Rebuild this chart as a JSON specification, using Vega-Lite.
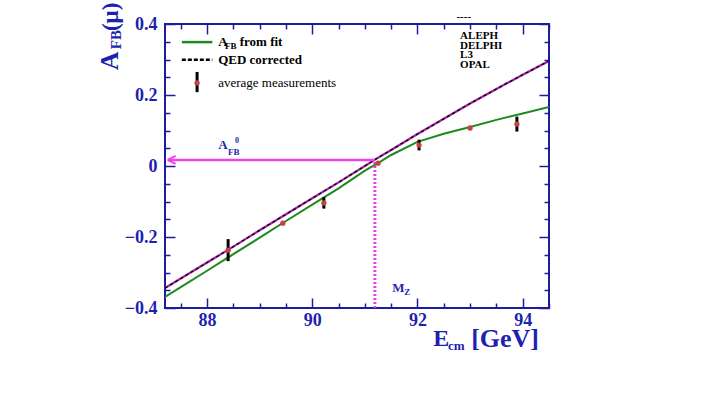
{
  "$schema": "https://vega.github.io/schema/vega-lite/v6.json",
  "width": 384,
  "height": 284,
  "autosize": {"type": "none"},
  "padding": {"left": 165, "top": 24, "right": 171, "bottom": 97},
  "background": "white",
  "config": {"view": {"stroke": "#1c1c9c", "strokeWidth": 2}},
  "datasets": {
    "fit": [
      {"E": 87.2, "A": -0.369}, {"E": 87.5, "A": -0.341}, {"E": 88.0, "A": -0.295}, {"E": 88.5, "A": -0.248},
      {"E": 89.0, "A": -0.202}, {"E": 89.5, "A": -0.155}, {"E": 90.0, "A": -0.109}, {"E": 90.5, "A": -0.063},
      {"E": 91.0, "A": -0.013}, {"E": 91.25, "A": 0.008}, {"E": 91.5, "A": 0.031}, {"E": 92.0, "A": 0.068},
      {"E": 92.5, "A": 0.091}, {"E": 93.0, "A": 0.110}, {"E": 93.5, "A": 0.130}, {"E": 94.0, "A": 0.148},
      {"E": 94.5, "A": 0.166}
    ],
    "qed": [
      {"E": 87.2, "A": -0.344}, {"E": 88.0, "A": -0.272}, {"E": 88.5, "A": -0.227}, {"E": 89.0, "A": -0.181},
      {"E": 89.5, "A": -0.136}, {"E": 90.0, "A": -0.091}, {"E": 90.5, "A": -0.046}, {"E": 91.0, "A": 0.0},
      {"E": 91.19, "A": 0.018}, {"E": 91.5, "A": 0.045}, {"E": 92.0, "A": 0.090}, {"E": 92.5, "A": 0.133},
      {"E": 93.0, "A": 0.176}, {"E": 93.5, "A": 0.217}, {"E": 94.0, "A": 0.257}, {"E": 94.5, "A": 0.296}
    ],
    "meas": [
      {"E": 88.40, "A": -0.237}, {"E": 89.44, "A": -0.161}, {"E": 90.22, "A": -0.104}, {"E": 91.25, "A": 0.008},
      {"E": 92.03, "A": 0.059}, {"E": 93.00, "A": 0.107}, {"E": 93.89, "A": 0.118}
    ],
    "err": [
      {"E": 88.40, "A": -0.268, "A2": -0.206}, {"E": 89.44, "A": -0.166, "A2": -0.156}, {"E": 90.22, "A": -0.120, "A2": -0.088},
      {"E": 91.25, "A": 0.005, "A2": 0.011}, {"E": 92.03, "A": 0.044, "A2": 0.074}, {"E": 93.00, "A": 0.102, "A2": 0.112},
      {"E": 93.89, "A": 0.097, "A2": 0.139}
    ],
    "arrow": [{"E": 87.27, "E2": 91.19, "A": 0.017}],
    "arrowhead": [{"E": 87.25, "A": 0.017}],
    "mz": [{"E": 91.19, "A": -0.4, "A2": 0.017}],
    "legfit": [{"E": 87.52, "A": 0.349}, {"E": 88.10, "A": 0.349}],
    "legqed": [{"E": 87.52, "A": 0.299}, {"E": 88.10, "A": 0.299}],
    "legpt": [{"E": 87.81, "A": 0.234}],
    "legerr": [{"E": 87.81, "A": 0.208, "A2": 0.265}],
    "legbold": [{"E": 88.21, "A": 0.349, "t": "A"}, {"E": 88.62, "A": 0.349, "t": "from fit"}, {"E": 88.21, "A": 0.299, "t": "QED corrected"}],
    "legsub": [{"E": 88.34, "A": 0.339, "t": "FB"}],
    "legnorm": [{"E": 88.21, "A": 0.234, "t": "average  measurements"}],
    "exp": [{"E": 92.81, "A": 0.366, "t": "ALEPH"}, {"E": 92.81, "A": 0.339, "t": "DELPHI"}, {"E": 92.81, "A": 0.312, "t": "L3"}, {"E": 92.81, "A": 0.285, "t": "OPAL"}, {"E": 92.74, "A": 0.42, "t": "----"}],
    "lblbig": [{"E": 88.21, "A": 0.059, "t": "A"}, {"E": 91.52, "A": -0.344, "t": "M"}],
    "lblsub": [{"E": 88.40, "A": 0.040, "t": "FB"}, {"E": 91.75, "A": -0.356, "t": "Z"}],
    "lblsup": [{"E": 88.57, "A": 0.071, "t": "0"}],
    "xtitle": [{"E": 92.30, "A": -0.487, "t": "E", "s": 24}, {"E": 93.02, "A": -0.487, "t": "[GeV]", "s": 26}],
    "xtitlesub": [{"E": 92.58, "A": -0.507, "t": "cm"}],
    "ytitle": [{"E": 86.16, "A": 0.296, "t": "A", "s": 26}, {"E": 86.17, "A": 0.420, "t": "(μ)", "s": 23}],
    "ytitlesub": [{"E": 86.27, "A": 0.356, "t": "FB"}]
  },
  "layer": [
    {
      "encoding": {
        "x": {
          "field": "E", "type": "quantitative",
          "scale": {"domain": [87.2, 94.5], "nice": false, "zero": false},
          "axis": {
            "orient": "bottom", "title": null, "domain": false, "grid": false,
            "values": [87.5, 88, 88.5, 89, 89.5, 90, 90.5, 91, 91.5, 92, 92.5, 93, 93.5, 94, 94.5],
            "labelExpr": "datum.value % 2 === 0 ? format(datum.value, 'd') : ''",
            "tickSize": {"condition": {"test": "datum.value % 2 === 0", "value": -10}, "value": -5},
            "tickColor": "#1c1c9c", "tickWidth": 1.5,
            "labelFont": "Liberation Serif", "labelFontWeight": "bold", "labelFontSize": 18,
            "labelColor": "#1f1fb0", "labelPadding": 13, "labelFlush": false, "labelOverlap": false
          }
        },
        "y": {
          "field": "A", "type": "quantitative",
          "scale": {"domain": [-0.4, 0.4], "nice": false, "zero": false},
          "axis": {
            "orient": "left", "title": null, "domain": false, "grid": false,
            "values": [-0.4, -0.35, -0.3, -0.25, -0.2, -0.15, -0.1, -0.05, 0, 0.05, 0.1, 0.15, 0.2, 0.25, 0.3, 0.35, 0.4],
            "labelExpr": "abs(datum.value*5 - round(datum.value*5)) < 1e-6 ? format(datum.value, '~g') : ''",
            "tickSize": {"condition": {"test": "abs(datum.value*5 - round(datum.value*5)) < 1e-6", "value": -10}, "value": -5},
            "tickColor": "#1c1c9c", "tickWidth": 1.5,
            "labelFont": "Liberation Serif", "labelFontWeight": "bold", "labelFontSize": 18,
            "labelColor": "#1f1fb0", "labelPadding": 18, "labelFlush": false, "labelOverlap": false
          }
        }
      },
      "layer": [
        {"data": {"name": "fit"}, "mark": {"type": "line", "color": "#1e8a1e", "strokeWidth": 2, "clip": true}},
        {"data": {"name": "qed"}, "mark": {"type": "line", "color": "#a0229f", "strokeWidth": 2.2, "clip": true}},
        {"data": {"name": "qed"}, "mark": {"type": "line", "color": "#000000", "strokeWidth": 1.2, "strokeDash": [3, 3], "clip": true}},
        {"data": {"name": "arrow"}, "mark": {"type": "rule", "color": "#f040f0", "strokeWidth": 2.5}, "encoding": {"x2": {"field": "E2"}}},
        {"data": {"name": "arrowhead"}, "mark": {"type": "point", "shape": "M0,0L1.6,-0.8M0,0L1.6,0.8", "filled": false, "stroke": "#f040f0", "strokeWidth": 2, "size": 100, "opacity": 1}},
        {"data": {"name": "mz"}, "mark": {"type": "rule", "color": "#e040e0", "strokeWidth": 3, "strokeDash": [2, 2]}, "encoding": {"y2": {"field": "A2"}}},
        {"data": {"name": "err"}, "mark": {"type": "rule", "color": "#000000", "strokeWidth": 3}, "encoding": {"y2": {"field": "A2"}}},
        {"data": {"name": "meas"}, "mark": {"type": "point", "shape": "circle", "filled": true, "color": "#c84040", "size": 28, "opacity": 1}},
        {"data": {"name": "legfit"}, "mark": {"type": "line", "color": "#1e8a1e", "strokeWidth": 2.5}},
        {"data": {"name": "legqed"}, "mark": {"type": "line", "color": "#000000", "strokeWidth": 2.5, "strokeDash": [4, 2]}},
        {"data": {"name": "legerr"}, "mark": {"type": "rule", "color": "#000000", "strokeWidth": 3}, "encoding": {"y2": {"field": "A2"}}},
        {"data": {"name": "legpt"}, "mark": {"type": "point", "shape": "circle", "filled": true, "color": "#c84040", "size": 28, "opacity": 1}},
        {"data": {"name": "legbold"}, "mark": {"type": "text", "align": "left", "baseline": "middle", "font": "Liberation Serif", "fontWeight": "bold", "fontSize": 13, "color": "#000000"}, "encoding": {"text": {"field": "t"}}},
        {"data": {"name": "legsub"}, "mark": {"type": "text", "align": "left", "baseline": "middle", "font": "Liberation Serif", "fontWeight": "bold", "fontSize": 9, "color": "#000000"}, "encoding": {"text": {"field": "t"}}},
        {"data": {"name": "legnorm"}, "mark": {"type": "text", "align": "left", "baseline": "middle", "font": "Liberation Serif", "fontSize": 13, "color": "#000000"}, "encoding": {"text": {"field": "t"}}},
        {"data": {"name": "exp"}, "mark": {"type": "text", "align": "left", "baseline": "middle", "font": "Liberation Serif", "fontWeight": "bold", "fontSize": 11, "color": "#000000"}, "encoding": {"text": {"field": "t"}}},
        {"data": {"name": "lblbig"}, "mark": {"type": "text", "align": "left", "baseline": "middle", "font": "Liberation Serif", "fontWeight": "bold", "fontSize": 13, "color": "#2626b0"}, "encoding": {"text": {"field": "t"}}},
        {"data": {"name": "lblsub"}, "mark": {"type": "text", "align": "left", "baseline": "middle", "font": "Liberation Serif", "fontWeight": "bold", "fontSize": 9, "color": "#2626b0"}, "encoding": {"text": {"field": "t"}}},
        {"data": {"name": "lblsup"}, "mark": {"type": "text", "align": "center", "baseline": "middle", "font": "Liberation Serif", "fontWeight": "bold", "fontSize": 8, "color": "#2626b0"}, "encoding": {"text": {"field": "t"}}},
        {"data": {"name": "xtitle"}, "mark": {"type": "text", "align": "left", "baseline": "middle", "font": "Liberation Serif", "fontWeight": "bold", "color": "#1f1fb0"}, "encoding": {"text": {"field": "t"}, "size": {"field": "s", "type": "quantitative", "scale": null}}},
        {"data": {"name": "xtitlesub"}, "mark": {"type": "text", "align": "left", "baseline": "middle", "font": "Liberation Serif", "fontWeight": "bold", "fontSize": 13, "color": "#1f1fb0"}, "encoding": {"text": {"field": "t"}}},
        {"data": {"name": "ytitle"}, "mark": {"type": "text", "align": "center", "baseline": "middle", "angle": 270, "font": "Liberation Serif", "fontWeight": "bold", "color": "#1f1fb0"}, "encoding": {"text": {"field": "t"}, "size": {"field": "s", "type": "quantitative", "scale": null}}},
        {"data": {"name": "ytitlesub"}, "mark": {"type": "text", "align": "center", "baseline": "middle", "angle": 270, "font": "Liberation Serif", "fontWeight": "bold", "fontSize": 15, "color": "#1f1fb0"}, "encoding": {"text": {"field": "t"}}}
      ]
    },
    {
      "data": {"name": "qed"},
      "mark": {"type": "line", "opacity": 0},
      "encoding": {
        "x": {
          "field": "E", "type": "quantitative",
          "scale": {"domain": [87.2, 94.5], "nice": false, "zero": false},
          "axis": {
            "orient": "top", "title": null, "domain": false, "grid": false, "labels": false,
            "values": [87.5, 88, 88.5, 89, 89.5, 90, 90.5, 91, 91.5, 92, 92.5, 93, 93.5, 94, 94.5],
            "tickSize": {"condition": {"test": "datum.value % 2 === 0", "value": -10}, "value": -5},
            "tickColor": "#1c1c9c", "tickWidth": 1.5
          }
        },
        "y": {
          "field": "A", "type": "quantitative",
          "scale": {"domain": [-0.4, 0.4], "nice": false, "zero": false},
          "axis": {
            "orient": "right", "title": null, "domain": false, "grid": false, "labels": false,
            "values": [-0.4, -0.35, -0.3, -0.25, -0.2, -0.15, -0.1, -0.05, 0, 0.05, 0.1, 0.15, 0.2, 0.25, 0.3, 0.35, 0.4],
            "tickSize": {"condition": {"test": "abs(datum.value*5 - round(datum.value*5)) < 1e-6", "value": -10}, "value": -5},
            "tickColor": "#1c1c9c", "tickWidth": 1.5
          }
        }
      }
    }
  ],
  "resolve": {"axis": {"x": "independent", "y": "independent"}}
}
